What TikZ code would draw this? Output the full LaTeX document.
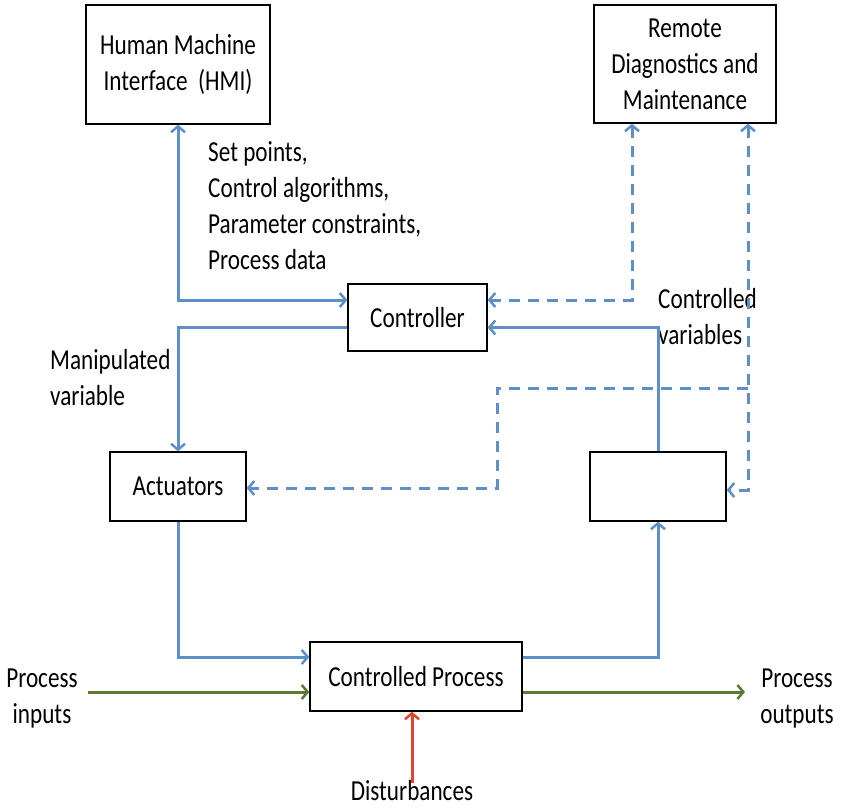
\documentclass[tikz,border=0pt]{standalone}
\usepackage{fontspec}
\setmainfont{Carlito}[FakeStretch=0.8]
\usetikzlibrary{arrows.meta}
\definecolor{lblue}{HTML}{5E8FC8}
\definecolor{lgreen}{HTML}{5C7A34}
\definecolor{lred}{HTML}{E5432B}
\begin{document}
\begin{tikzpicture}[x=1pt,y=-1pt,
  txt/.style={font=\fontsize{29}{36}\selectfont},
  box/.style={txt,draw=black,line width=1.3pt,fill=white,inner sep=0pt,align=center},
  lbl/.style={txt,inner sep=0pt,align=left},
  lblc/.style={txt,inner sep=0pt,align=center},
  tip/.tip={Straight Barb[length=6pt,width=14pt,line width=2.5pt]},
  conn/.style={draw=lblue,line width=3pt,-tip},
  biconn/.style={draw=lblue,line width=3pt,tip-tip},
  dconn/.style={conn,dash pattern=on 11pt off 8pt},
  dbiconn/.style={biconn,dash pattern=on 11pt off 8pt},
  gconn/.style={draw=lgreen,line width=3pt,-tip},
  rconn/.style={draw=lred,line width=3pt,-tip}]
\useasboundingbox (0,0) rectangle (842,810);
% boxes
\node[box,minimum width=184pt,minimum height=119pt] (hmi) at (178,64.5) {Human Machine\\Interface~~(HMI)};
\node[box,minimum width=182pt,minimum height=118pt] (rdm) at (685,64) {Remote\\Diagnostics and\\Maintenance};
\node[box,minimum width=139pt,minimum height=67pt] (ctrl) at (417.5,317.5) {Controller};
\node[box,minimum width=136pt,minimum height=69pt] (act) at (178,486.5) {Actuators};
\node[box,minimum width=136pt,minimum height=69pt] (sens) at (658,486.5) {};
\node[box,minimum width=212pt,minimum height=69pt] (proc) at (416,676.5) {Controlled Process};
% labels
\node[lbl,anchor=west] (sp) at (208,206) {Set points,\\Control algorithms,\\Parameter constraints,\\Process data};
\node[lbl,anchor=west] (mv) at (50,378) {Manipulated\\variable};
\node[lbl,anchor=west] (cv) at (658,317) {Controlled\\variables};
\node[lblc] (pinl) at (42,699) {Process\\inputs};
\node[lblc] (poutl) at (797,699) {Process\\outputs};
\node[lblc] (dist) at (412,791) {Disturbances};
% blue solid connectors
\draw[biconn] (hmi.south) |- ([yshift=17.5pt]ctrl.west);
\draw[conn] ([yshift=-10pt]ctrl.west) -| (act.north);
\draw[conn] (act.south) |- ([yshift=19.5pt]proc.west);
\draw[conn] ([yshift=19.5pt]proc.east) -| (sens.south);
\draw[conn] (sens.north) |- ([yshift=-10pt]ctrl.east);
% dashed connectors
\draw[dbiconn] ([xshift=-53pt]rdm.south) |- ([yshift=17.5pt]ctrl.east);
\draw[dbiconn] ([xshift=63pt]rdm.south) |- ([yshift=-3.5pt]sens.east);
\coordinate (j) at (748,388);
\coordinate (k) at (497,388);
\draw[dconn] (j) -- (k) |- ([yshift=-1.5pt]act.east);
% process flow
\coordinate (pin) at (88,692);
\coordinate (pout) at (745,692);
\draw[gconn] (pin) -- (proc.west |- pin);
\draw[gconn] (proc.east |- pout) -- (pout);
\draw[rconn] ([yshift=-2pt]dist.north) -- (dist.north |- proc.south);
\end{tikzpicture}
\end{document}
